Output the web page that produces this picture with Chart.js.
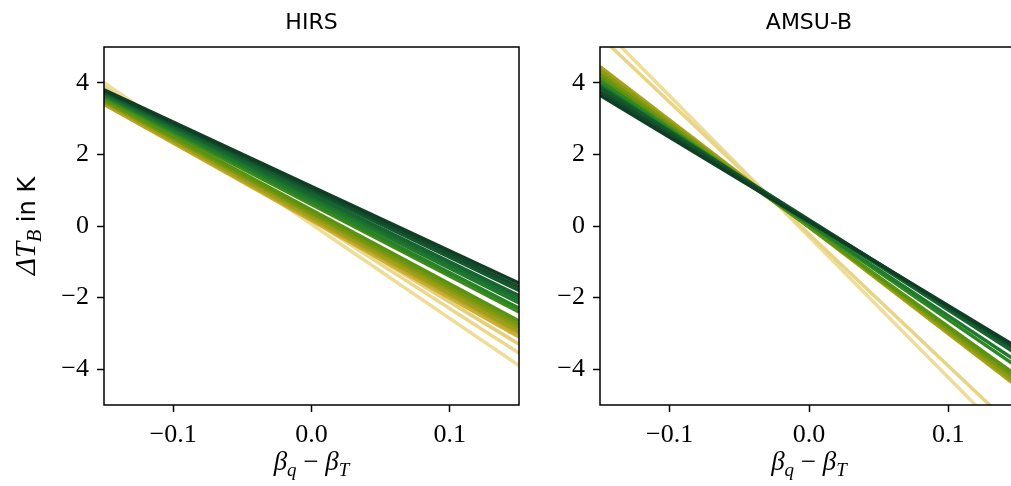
<!DOCTYPE html>
<html>
<head>
<meta charset="utf-8">
<script src="https://cdn.jsdelivr.net/npm/chart.js@4"></script>
<style>
  html, body { margin: 0; padding: 0; background: #fff; }
  body { width: 1011px; height: 486px; overflow: hidden; position: relative; }
  canvas { position: absolute; top: 0; }
  #hirs { left: 0; }
  #amsub { left: 520px; }
</style>
</head>
<body>
<canvas id="hirs" width="540" height="486"></canvas>
<canvas id="amsub" width="520" height="486"></canvas>
<script>
// x range and ticks (shared by both panels)
const xMin = -0.15;
const xMax = 0.15;
const xTicks = [-0.1, 0.0, 0.1];
const xTickLabels = ["\u22120.1", "0.0", "0.1"];
const yTicks = [-4, -2, 0, 2, 4];
const yTickLabels = ["\u22124", "\u22122", "0", "2", "4"];

// HIRS: value at x=-0.15 and at x=0.15, light -> dark
const hirsLeft  = [4.0, 3.9, 3.75, 3.4, 3.4, 3.45, 3.5, 3.5, 3.55, 3.6, 3.65, 3.65, 3.7, 3.72, 3.75, 3.78, 3.8];
const hirsRight = [-3.9, -3.55, -3.3, -3.1, -3.0, -2.95, -2.85, -2.75, -2.65, -2.4, -2.3, -2.15, -2.05, -1.95, -1.8, -1.7, -1.6];
const hirsColors = ["#eedd99", "#ecd88c", "#e6cf7a", "#cdb032", "#b8a628", "#a09e1a", "#8a9a12", "#74960e",
                    "#5a9212", "#3f8a1c", "#2a8226", "#1f7a2c", "#1b7030", "#176430", "#14582e", "#124a2a", "#103e25"];

// AMSU-B
const amsuLeft  = [5.6, 5.3, 4.45, 4.35, 4.25, 4.15, 4.05, 3.95, 3.9, 3.85, 3.75, 3.65];
const amsuRight = [-6.2, -5.75, -4.5, -4.4, -4.3, -4.2, -3.95, -3.8, -3.6, -3.5, -3.45, -3.4];
const amsuColors = ["#eedd99", "#e8d486", "#a8a21e", "#8c9c14", "#74960e", "#5a9212", "#2f8624", "#1f7a2c",
                    "#176430", "#14582e", "#124a2a", "#103e25"];

const serif = "'Liberation Serif', 'DejaVu Serif', serif";
const sans = "'DejaVu Sans', sans-serif";

function makeDatasets(lefts, rights, colors) {
  const n = lefts.length;
  return lefts.map((l, i) => ({
    data: [{ x: xMin, y: l }, { x: xMax, y: rights[i] }],
    borderColor: colors[i],
    borderWidth: 3.5,
    pointRadius: 0,
    showLine: true,
    order: n - 1 - i, // darkest drawn last (on top)
  }));
}

// frame on all four sides + titles and labels
const framePlugin = {
  id: "frame",
  afterDraw(chart, args, opts) {
    const { ctx, chartArea: a } = chart;
    ctx.save();
    ctx.strokeStyle = "#000";
    ctx.lineWidth = 1.5;
    ctx.strokeRect(a.left, a.top, a.right - a.left, a.bottom - a.top);

    const cx = (a.left + a.right) / 2;
    ctx.fillStyle = "#000";
    ctx.textAlign = "center";
    ctx.textBaseline = "alphabetic";
    ctx.font = "22px " + sans;
    ctx.fillText(opts.title, cx, 29);

    // x label: beta_q - beta_T
    drawPieces(ctx, cx, 470, [
      ["italic 27px " + serif, "\u03b2", 0],
      ["italic 19px " + serif, "q", 6],
      ["27px " + serif, " \u2212 ", 0],
      ["italic 27px " + serif, "\u03b2", 0],
      ["italic 19px " + serif, "T", 6],
    ]);

    if (opts.ylabel) {
      ctx.translate(35, 226);
      ctx.rotate(-Math.PI / 2);
      drawPieces(ctx, 0, 0, [
        ["italic 29px " + serif, "\u0394T", 0],
        ["italic 20px " + serif, "B", 6],
        ["24px " + sans, " in K", 0],
      ]);
    }
    ctx.restore();
  },
};

function drawPieces(ctx, cx, y, pieces) {
  let total = 0;
  pieces.forEach(p => { ctx.font = p[0]; total += ctx.measureText(p[1]).width; });
  let x = cx - total / 2;
  ctx.textAlign = "left";
  pieces.forEach(p => {
    ctx.font = p[0];
    ctx.fillText(p[1], x, y + p[2]);
    x += ctx.measureText(p[1]).width;
  });
  ctx.textAlign = "center";
}

function makeChart(id, datasets, title, ylabel, leftWidth, rightPad) {
  return new Chart(document.getElementById(id), {
    type: "scatter",
    data: { datasets },
    plugins: [framePlugin],
    options: {
      responsive: false,
      animation: false,
      layout: { padding: { left: 0, top: 47, right: rightPad, bottom: 0 } },
      plugins: {
        legend: { display: false },
        tooltip: { enabled: false },
        frame: { title, ylabel },
      },
      scales: {
        x: {
          type: "linear",
          min: xMin,
          max: xMax,
          afterBuildTicks: s => { s.ticks = xTicks.map(v => ({ value: v })); },
          afterFit: s => { s.height = 81; },
          grid: { drawOnChartArea: false, tickLength: 7, tickColor: "#000", tickWidth: 1.5 },
          border: { display: false },
          ticks: {
            color: "#000",
            padding: 8,
            maxRotation: 0,
            font: { family: serif, size: 26 },
            callback: (v, i) => xTickLabels[i],
          },
        },
        y: {
          min: -5,
          max: 5,
          afterBuildTicks: s => { s.ticks = yTicks.map(v => ({ value: v })); },
          afterFit: s => { s.width = leftWidth; },
          grid: { drawOnChartArea: false, tickLength: 7, tickColor: "#000", tickWidth: 1.5 },
          border: { display: false },
          ticks: {
            color: "#000",
            padding: 8,
            font: { family: serif, size: 26 },
            callback: (v, i) => yTickLabels[i],
          },
        },
      },
    },
  });
}

makeChart("hirs", makeDatasets(hirsLeft, hirsRight, hirsColors), "HIRS", true, 104, 21);
makeChart("amsub", makeDatasets(amsuLeft, amsuRight, amsuColors), "AMSU-B", false, 80, 22);
</script>
</body>
</html>
